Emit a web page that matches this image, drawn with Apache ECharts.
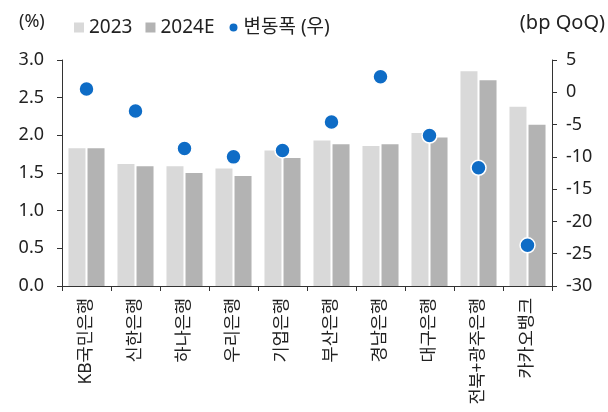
<!DOCTYPE html>
<html>
<head>
<meta charset="utf-8">
<script src="https://cdn.jsdelivr.net/npm/echarts@6/dist/echarts.min.js"></script>
<style>
  html, body { margin: 0; padding: 0; background: #fff; }
  #chart { width: 608px; height: 412px; }
</style>
</head>
<body>
<div id="chart"></div>
<script>
// categories
const banks = ['KB국민은행', '신한은행', '하나은행', '우리은행', '기업은행', '부산은행', '경남은행', '대구은행', '전북+광주은행', '카카오뱅크']
// NIM (%)
const nim2023 = [1.83, 1.62, 1.59, 1.56, 1.80, 1.93, 1.86, 2.03, 2.85, 2.38]
const nim2024E = [1.83, 1.59, 1.50, 1.46, 1.70, 1.88, 1.88, 1.97, 2.73, 2.14]
// 변동폭 (bp QoQ)
const change = [0.5, -2.9, -8.7, -10.0, -9.0, -4.6, 2.4, -6.7, -11.7, -23.7]

const font = "'Noto Sans', 'Noto Sans CJK KR', sans-serif"
const chart = echarts.init(document.getElementById('chart'))

let option = {
    animation: false,
    textStyle: { fontFamily: font },
    graphic: [
        {
            type: 'text', left: 19, top: 13,
            style: { text: '(%)', font: '18px ' + font, fill: '#222' }
        },
        {
            type: 'text', right: 3, top: 13,
            style: { text: '(bp QoQ)', font: '20px ' + font, fill: '#222' }
        }
    ],
    legend: {
        left: 69,
        top: 13,
        itemWidth: 10,
        itemHeight: 10,
        itemGap: 13,
        textStyle: { fontSize: 19, color: '#222', fontFamily: font },
        data: [
            { name: '2023', icon: 'rect' },
            { name: '2024E', icon: 'rect' },
            { name: '변동폭 (우)', icon: 'circle' }
        ]
    },
    grid: {
        left: 62,
        right: 56,
        top: 60,
        bottom: 126
    },
    xAxis: {
        type: 'category',
        data: banks,
        axisLine: { lineStyle: { color: '#333' } },
        axisTick: { show: true, length: 5, lineStyle: { color: '#333' } },
        axisLabel: {
            rotate: 90,
            margin: 12,
            fontSize: 17.5,
            color: '#222',
            interval: 0,
            fontFamily: font
        }
    },
    yAxis: [
        {
            type: 'value',
            min: 0,
            max: 3,
            interval: 0.5,
            splitLine: { show: false },
            axisLine: { show: true, lineStyle: { color: '#333' } },
            axisTick: { show: true, length: 5, lineStyle: { color: '#333' } },
            axisLabel: {
                margin: 18,
                fontSize: 18,
                color: '#222',
                formatter: v => v.toFixed(1)
            }
        },
        {
            type: 'value',
            min: -30,
            max: 5,
            interval: 5,
            splitLine: { show: false },
            axisLine: { show: true, lineStyle: { color: '#333' } },
            axisTick: { show: true, length: 5, lineStyle: { color: '#333' } },
            axisLabel: {
                margin: 14,
                fontSize: 18,
                color: '#222'
            }
        }
    ],
    series: [
        {
            name: '2023',
            type: 'bar',
            data: nim2023,
            barWidth: 17,
            barGap: '12%',
            itemStyle: { color: '#d9d9d9' }
        },
        {
            name: '2024E',
            type: 'bar',
            data: nim2024E,
            barWidth: 17,
            barGap: '12%',
            itemStyle: { color: '#b3b3b3' }
        },
        {
            name: '변동폭 (우)',
            type: 'scatter',
            yAxisIndex: 1,
            data: change,
            symbolSize: 15,
            itemStyle: { color: '#0e6cc6', opacity: 1, borderColor: '#fff', borderWidth: 1.5 }
        }
    ]
}

chart.setOption(option)
</script>
</body>
</html>
